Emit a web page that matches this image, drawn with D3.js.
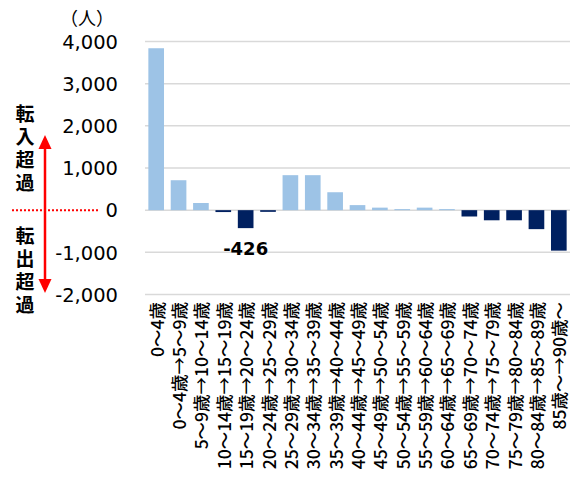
<!DOCTYPE html>
<html><head><meta charset="utf-8">
<script src="https://cdn.jsdelivr.net/npm/d3@7"></script>
<style>body{margin:0;background:#fff}</style></head>
<body><svg id="c" width="581" height="488"></svg>
<script>
const categories=["0～4歳","0～4歳→5～9歳","5～9歳→10～14歳","10～14歳→15～19歳","15～19歳→20～24歳","20～24歳→25～29歳","25～29歳→30～34歳","30～34歳→35～39歳","35～39歳→40～44歳","40～44歳→45～49歳","45～49歳→50～54歳","50～54歳→55～59歳","55～59歳→60～64歳","60～64歳→65～69歳","65～69歳→70～74歳","70～74歳→75～79歳","75～79歳→80～84歳","80～84歳→85～89歳","85歳～→90歳～"];
const values=[3840,710,170,-45,-426,-40,830,830,425,120,60,25,60,25,-150,-240,-240,-450,-960];
const yTicks=[-2000,-1000,0,1000,2000,3000,4000];
const labelledIndex=[4];
const inLabel="転入超過";
const outLabel="転出超過";

const svg=d3.select("#c");
const x=d3.scaleBand().domain(categories).range([145,570]).paddingInner(0.3).paddingOuter(0.15);
const y=d3.scaleLinear().domain([-2000,4000]).range([294.5,41.5]);
const fmt=d3.format(",");

// gridlines
svg.append("g").selectAll("line").data(yTicks).join("line")
  .attr("x1",145).attr("x2",570).attr("y1",d=>y(d)).attr("y2",d=>y(d))
  .attr("stroke","#d9d9d9").attr("stroke-width",1.5);

// y labels
const yAxis=d3.axisLeft(y).tickValues(yTicks).tickSize(0).tickPadding(0).tickFormat(d=>fmt(d).replace("−","-"));
const ga=svg.append("g").attr("transform","translate(118,0)").call(yAxis);
ga.select(".domain").remove();
ga.selectAll("text").attr("font-family","DejaVu Sans, Verdana, sans-serif").attr("font-size",19.5).attr("fill","#000").attr("dy","0.35em");

svg.append("text").attr("x",87).attr("y",17).attr("text-anchor","middle").attr("dominant-baseline","central")
  .attr("font-family","Noto Sans CJK JP").attr("font-size",18).text("（人）");

// bars
svg.append("g").selectAll("rect").data(values).join("rect")
  .attr("x",(d,i)=>x(categories[i])).attr("width",x.bandwidth())
  .attr("y",d=>y(Math.max(0,d))).attr("height",d=>Math.abs(y(d)-y(0)))
  .attr("fill",d=>d>=0?"#9dc3e6":"#002060");

// data label
svg.append("g").selectAll("text").data(labelledIndex).join("text")
  .attr("x",i=>x(categories[i])+x.bandwidth()/2).attr("y",y(-900))
  .attr("text-anchor","middle").attr("dominant-baseline","central")
  .attr("font-family","DejaVu Sans, Verdana, sans-serif").attr("font-weight","bold").attr("font-size",18)
  .text(i=>fmt(values[i]).replace("−","-"));

// x labels
svg.append("g").selectAll("text").data(categories).join("text")
  .attr("transform",d=>`translate(${x(d)+x.bandwidth()/2},302) rotate(-90)`)
  .attr("text-anchor","end").attr("dominant-baseline","central")
  .attr("font-family","Noto Sans CJK JP").attr("font-weight",500).attr("font-size",17.5).attr("fill","#000")
  .text(d=>d);

// left annotations (vertical writing)
[[inLabel,104],[outLabel,226]].forEach(([t,top])=>{
  svg.append("text").attr("x",25).attr("y",top)
    .style("writing-mode","vertical-rl").style("letter-spacing","4px")
    .attr("font-family","Noto Sans CJK JP").attr("font-weight","bold").attr("font-size",19).text(t);
});

// red dotted zero line
svg.append("line").attr("x1",12).attr("x2",100).attr("y1",y(0)).attr("y2",y(0))
  .attr("stroke","#ff0000").attr("stroke-width",2).attr("stroke-dasharray","2,2");
// red arrow
svg.append("line").attr("x1",45).attr("x2",45).attr("y1",146).attr("y2",281)
  .attr("stroke","#ff0000").attr("stroke-width",2.5);
svg.append("path").attr("d","M45,135 L38.5,149 L51.5,149 Z").attr("fill","#ff0000");
svg.append("path").attr("d","M45,293 L38.5,279 L51.5,279 Z").attr("fill","#ff0000");
</script></body></html>
